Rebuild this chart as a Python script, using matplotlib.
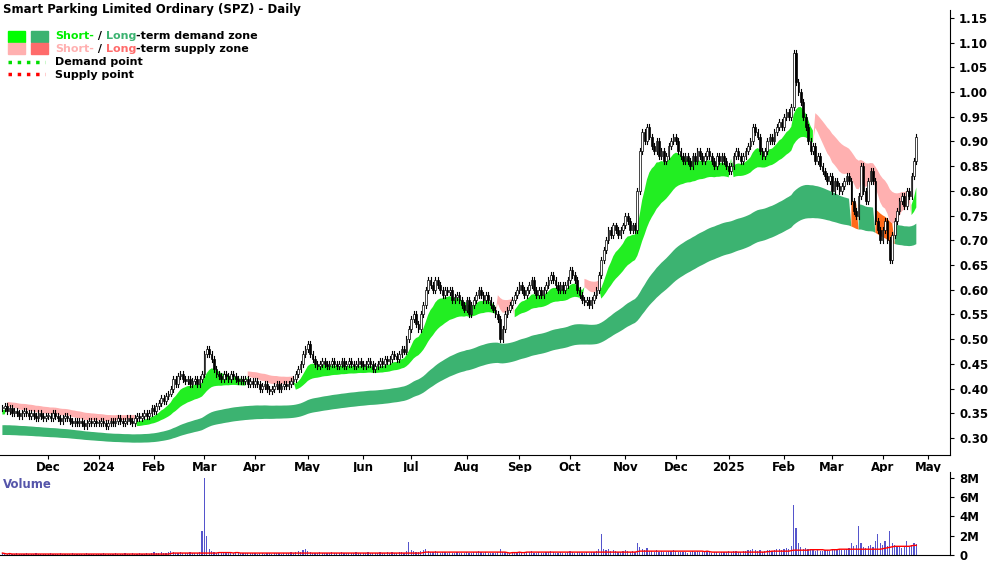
import numpy as np
import pandas as pd
import matplotlib
matplotlib.use("Agg")
import matplotlib.pyplot as plt
from matplotlib.patches import Rectangle
from matplotlib.lines import Line2D

closes_by_month = [
 [0.36,0.365,0.355,0.36,0.35,0.355,0.35,0.345,0.35,0.355,0.35,0.345,0.35,0.345,0.34,0.35,0.345,0.34,0.345],
 [0.345,0.34,0.35,0.345,0.34,0.335,0.34,0.345,0.34,0.335,0.33,0.335,0.33,0.335,0.33,0.325,0.33,0.335,0.33,0.335,0.33],
 [0.33,0.335,0.33,0.325,0.33,0.335,0.33,0.335,0.34,0.335,0.33,0.335,0.34,0.335,0.33,0.34,0.345,0.34,0.345,0.35,0.345,0.35],
 [0.36,0.355,0.365,0.37,0.38,0.375,0.385,0.39,0.40,0.42,0.41,0.425,0.43,0.42,0.415,0.42,0.41,0.415,0.42,0.41,0.42],
 [0.43,0.47,0.48,0.47,0.46,0.44,0.43,0.425,0.42,0.43,0.425,0.42,0.43,0.425,0.42,0.415,0.42,0.415,0.42,0.41,0.415],
 [0.41,0.415,0.41,0.40,0.405,0.41,0.40,0.395,0.40,0.405,0.41,0.40,0.405,0.41,0.405,0.41,0.415,0.42,0.43,0.44,0.45,0.47],
 [0.48,0.49,0.47,0.46,0.45,0.445,0.45,0.455,0.45,0.445,0.45,0.455,0.45,0.445,0.45,0.455,0.445,0.45,0.455,0.45,0.445,0.45,0.455],
 [0.45,0.445,0.45,0.455,0.45,0.44,0.445,0.45,0.455,0.45,0.46,0.455,0.46,0.47,0.465,0.46,0.47,0.48,0.475,0.50],
 [0.52,0.54,0.55,0.53,0.52,0.55,0.57,0.60,0.62,0.61,0.60,0.62,0.61,0.60,0.59,0.60,0.595,0.60,0.58,0.585,0.59,0.58,0.57],
 [0.56,0.58,0.55,0.57,0.58,0.59,0.60,0.59,0.58,0.59,0.58,0.57,0.56,0.55,0.54,0.50,0.52,0.55,0.56,0.57,0.58,0.59],
 [0.60,0.61,0.60,0.59,0.60,0.61,0.62,0.60,0.59,0.60,0.59,0.60,0.61,0.62,0.63,0.62,0.61,0.60,0.61,0.60,0.61],
 [0.62,0.64,0.63,0.62,0.60,0.59,0.58,0.575,0.58,0.57,0.58,0.59,0.60,0.63,0.66,0.68,0.70,0.72,0.71,0.73,0.72,0.71,0.72],
 [0.73,0.75,0.74,0.72,0.73,0.72,0.80,0.88,0.92,0.90,0.93,0.91,0.89,0.88,0.90,0.87,0.88,0.86,0.87,0.89,0.90],
 [0.91,0.90,0.88,0.87,0.86,0.87,0.86,0.85,0.87,0.86,0.88,0.87,0.86,0.87,0.88,0.87,0.86,0.85,0.87,0.86,0.87],
 [0.86,0.85,0.84,0.85,0.87,0.88,0.87,0.86,0.87,0.88,0.89,0.90,0.93,0.92,0.91,0.88,0.87,0.88,0.90,0.91,0.90,0.92,0.93],
 [0.94,0.93,0.95,0.96,0.95,0.97,1.08,1.02,1.00,0.98,0.95,0.93,0.90,0.88,0.89,0.86,0.87,0.85,0.84,0.83],
 [0.82,0.83,0.80,0.82,0.81,0.80,0.81,0.82,0.83,0.82,0.78,0.76,0.75,0.79,0.85,0.80,0.78,0.82,0.84,0.82,0.74],
 [0.72,0.70,0.72,0.74,0.70,0.66,0.71,0.74,0.76,0.78,0.79,0.77,0.80,0.79,0.83,0.86,0.91],
]
# volume in units of 100k shares
volume_by_month = [
 [2,1,1,2,1,1,2,1,1,1,2,1,1,1,2,1,1,1,1],
 [1,2,1,1,1,2,1,1,1,1,2,1,1,1,1,1,2,1,1,1,1],
 [1,1,2,1,1,1,1,2,1,1,1,2,1,1,2,1,1,2,1,1,2,1],
 [2,3,2,2,3,2,2,3,4,3,2,2,3,2,2,2,3,2,2,2,3],
 [25,80,20,6,4,3,2,3,2,2,3,2,2,2,3,2,2,2,2,2,2],
 [2,2,1,2,2,1,2,2,1,2,2,2,1,2,2,2,3,2,3,4,3,5],
 [6,4,3,2,2,2,3,2,2,2,2,3,2,2,2,3,2,2,2,2,2,3,2],
 [2,2,2,3,2,2,2,2,3,2,2,3,2,3,2,2,3,3,2,4],
 [13,5,4,3,3,4,5,6,4,3,3,4,3,2,3,3,2,3,2,2,3,2,2],
 [2,3,2,2,3,3,4,3,2,3,2,2,2,2,3,6,3,3,2,2,3,3],
 [3,3,2,2,3,3,4,2,2,3,2,2,3,3,4,3,2,2,3,2,2],
 [3,4,3,2,3,3,2,2,3,2,3,3,4,6,22,6,5,6,4,5,4,3,3],
 [4,5,4,3,4,3,12,8,6,5,7,4,4,3,5,3,4,3,3,4,4],
 [5,4,3,3,3,3,2,3,4,3,4,3,3,3,4,3,2,3,3,2,3],
 [3,3,4,3,4,4,3,3,4,4,5,5,6,5,4,5,3,4,5,5,4,5,6],
 [6,5,6,7,6,9,52,28,12,8,6,7,6,6,5,4,5,4,4,5],
 [5,4,6,5,5,6,5,5,6,7,12,9,10,30,12,8,7,9,10,8,14],
 [22,12,10,14,9,25,12,10,9,8,7,9,15,8,10,12,11],
]

closes = np.array([c for m in closes_by_month for c in m])
vols = np.array([v for m in volume_by_month for v in m]) * 1e5
n = len(closes)
dates = pd.bdate_range("2023-11-06", periods=n)
opens = np.concatenate([[closes[0]], closes[:-1]])
highs = np.maximum(opens, closes) + 0.006
lows = np.minimum(opens, closes) - 0.006

s = pd.Series(closes)
e10 = s.ewm(span=10, adjust=False).mean().values
e25 = s.ewm(span=25, adjust=False).mean().values
e55 = s.ewm(span=55, adjust=False).mean().values
e70 = s.ewm(span=70, adjust=False).mean().values
demand = e10 >= e25
st_lo = np.where(demand, 0.965 * e25, 1.01 * e10)
st_hi = np.where(demand, 0.99 * e10, 1.035 * e25)
lt_hi = 0.905 * e55
lt_lo = 0.85 * e70
lt_supply = closes < lt_hi

fig = plt.figure(figsize=(10, 5.62), dpi=100)
ax = fig.add_axes([0.0, 1 - 455/562, 0.95, 445/562])
axv = fig.add_axes([0.0, 1 - 555/562, 0.95, 83/562])
x = np.arange(n)

ax.fill_between(x, lt_lo, lt_hi, where=~lt_supply, color="#3cb371", lw=0, interpolate=True)
ax.fill_between(x, lt_lo, lt_hi, where=lt_supply, color="#ff6a1a", lw=0, interpolate=True)
ax.fill_between(x, st_lo, st_hi, where=demand, color="#22ee22", lw=0, interpolate=True)
ax.fill_between(x, st_lo, st_hi, where=~demand, color="#ffb0b0", lw=0, interpolate=True)

for i in range(n):
    o, c = opens[i], closes[i]
    ax.plot([i, i], [lows[i], highs[i]], color="black", lw=0.8, zorder=3)
    up = c >= o
    h = max(abs(c - o), 0.002)
    ax.add_patch(Rectangle((i - 0.35, min(o, c)), 0.7, h,
                           facecolor="white" if up else "black", edgecolor="black", lw=0.5, zorder=4))

ax.set_xlim(-1, 394)
ax.set_ylim(0.2656, 1.166)
ax.yaxis.tick_right()
yt = np.arange(0.30, 1.151, 0.05)
ax.set_yticks(yt)
ax.set_yticklabels([f"{v:.2f}" for v in yt])
for sp in ["top", "left"]:
    ax.spines[sp].set_visible(False)
    axv.spines[sp].set_visible(False)

months = pd.Series(dates.to_period("M"))
starts = [i for i in range(n) if i == 0 or months[i] != months[i - 1]][1:]
labels = [("%d" % dates[i].year) if dates[i].month == 1 else dates[i].strftime("%b") for i in starts]
starts.append(n + 4)
labels.append("May")
ax.set_xticks(starts)
ax.set_xticklabels(labels)
ax.tick_params(axis="both", labelsize=8.5, length=3)
ax.tick_params(axis="x", pad=1)
for t in ax.get_yticklabels() + ax.get_xticklabels():
    t.set_fontweight("bold")

axv.bar(x, vols, width=0.5, color="#5555cc")
vma = pd.Series(vols).rolling(30, min_periods=1).median().values
axv.plot(x, vma, color="red", lw=1)
axv.set_xlim(-1, 394)
axv.set_ylim(0, 8.6e6)
axv.yaxis.tick_right()
axv.set_yticks([0, 2e6, 4e6, 6e6, 8e6])
axv.set_yticklabels(["0", "2M", "4M", "6M", "8M"])
axv.set_xticks([])
axv.tick_params(axis="y", labelsize=8.5, length=3)
for t in axv.get_yticklabels():
    t.set_fontweight("bold")
axv.text(0.003, 0.93, "Volume", transform=axv.transAxes, color="#5555aa", fontsize=8.5, fontweight="bold", va="top")

fig.text(0.003, 0.995, "Smart Parking Limited Ordinary (SPZ) - Daily", fontsize=8.5, fontweight="bold", va="top")

def box(xp, yp, col):
    fig.patches.append(Rectangle((xp/1000, 1 - (yp+11)/562), 17/1000, 11/562, color=col, transform=fig.transFigure))
box(8, 31, "#00ff00"); box(31, 31, "#3cb371")
box(8, 43, "#ffb0b0"); box(31, 43, "#ff6b6b")
fig.lines.append(Line2D([8/1000, 45/1000], [1-62/562]*2, color="#00dd00", ls=":", lw=2.5, transform=fig.transFigure))
fig.lines.append(Line2D([8/1000, 45/1000], [1-74/562]*2, color="red", ls=":", lw=2.5, transform=fig.transFigure))

fig.canvas.draw()
r = fig.canvas.get_renderer()
def chain(xp, yp, parts):
    cx = xp
    for txt, col in parts:
        t = fig.text(cx/1000, 1 - yp/562, txt, color=col, fontsize=8, fontweight="bold", va="center")
        cx += t.get_window_extent(renderer=r).width
chain(55, 36, [("Short-", "#00ee00"), (" / ", "black"), ("Long", "#3cb371"), ("-term demand zone", "black")])
chain(55, 49, [("Short-", "#ffb0b0"), (" / ", "black"), ("Long", "#ff6b6b"), ("-term supply zone", "black")])
chain(55, 62, [("Demand point", "black")])
chain(55, 75, [("Supply point", "black")])

fig.savefig("out.png", dpi=100)
